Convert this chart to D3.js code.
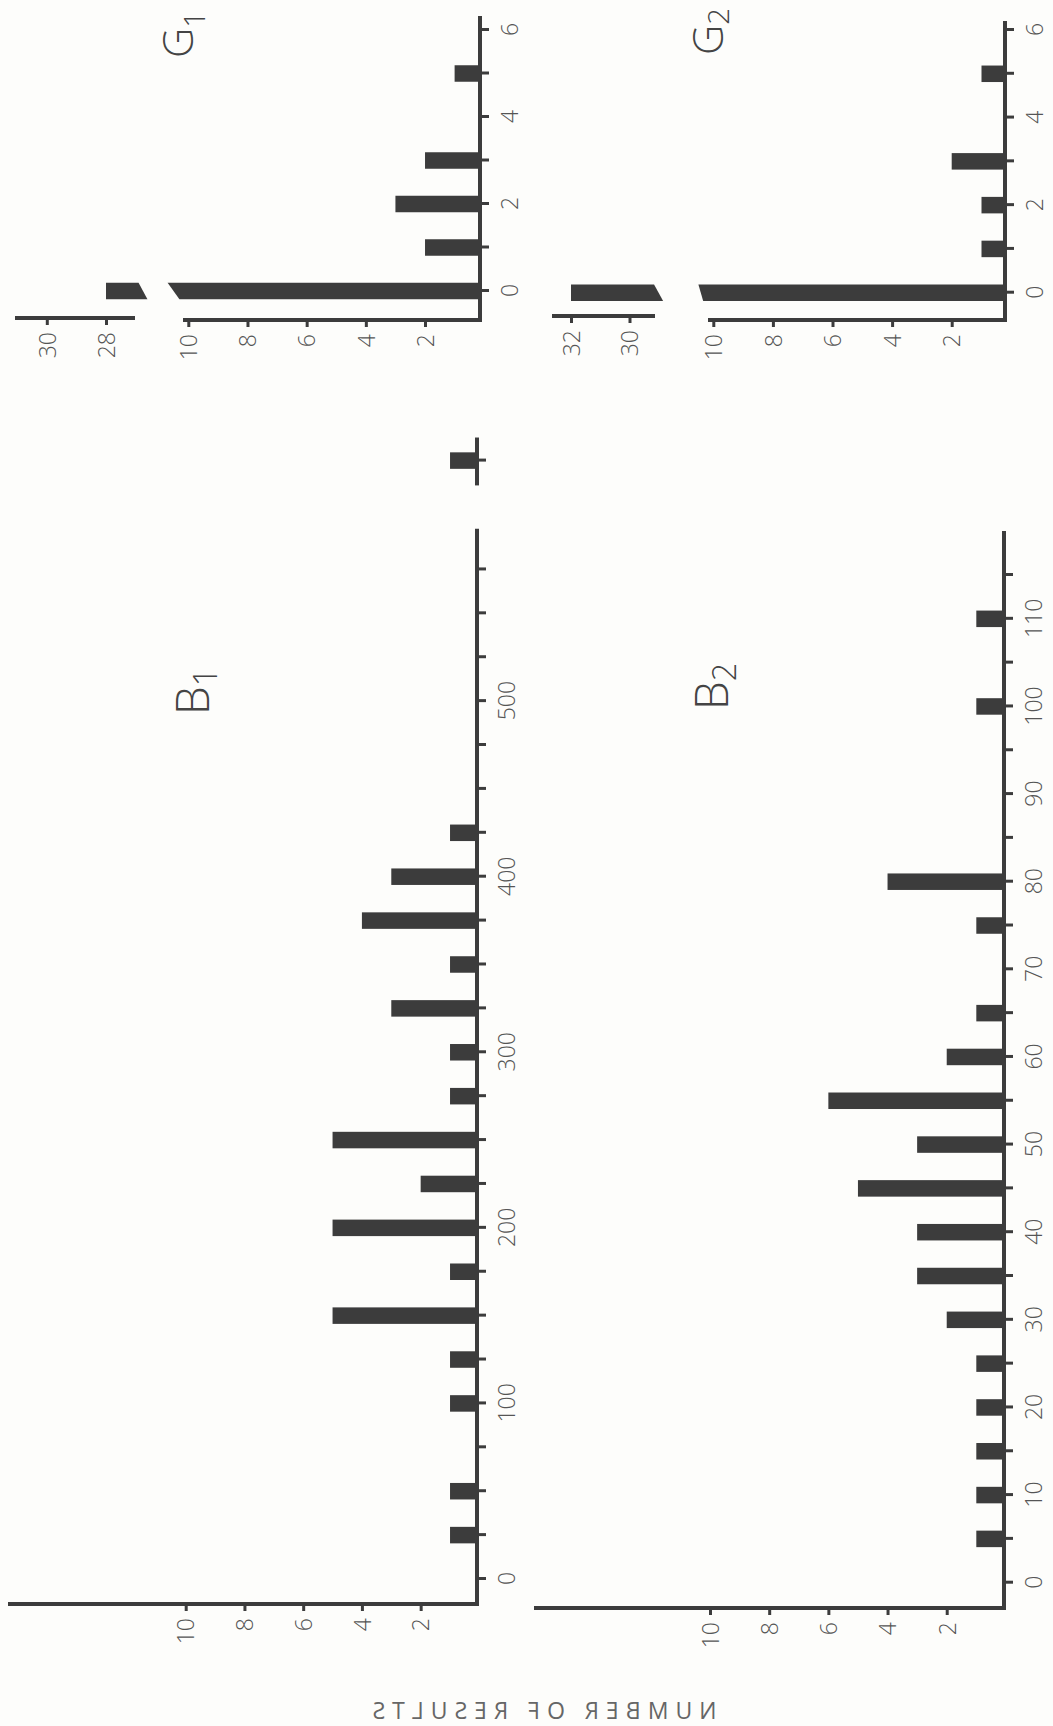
<!DOCTYPE html>
<html><head><meta charset="utf-8">
<script src="https://cdn.jsdelivr.net/npm/d3@7"></script>
<style>body{margin:0;background:#fdfdfb} svg{display:block}</style>
</head><body><svg id="c" width="1053" height="1726"></svg>
<script>
// ---------------- data ----------------
const b1Cats = [25,50,100,125,150,175,200,225,250,275,300,325,350,375,400,425];
const b1Vals = [1,1,1,1,5,1,5,2,5,1,1,3,1,4,3,1];
const b1FarCats = [637];      // bar beyond the axis break
const b1FarVals = [1];
const b1CatTicks = d3.range(0, 600, 25);
const b1CatLabels = [0,100,200,300,400,500];

const b2Cats = [5,10,15,20,25,30,35,40,45,50,55,60,65,75,80,100,110];
const b2Vals = [1,1,1,1,1,2,3,3,5,3,6,2,1,1,4,1,1];
const b2CatTicks = d3.range(0, 120, 5);
const b2CatLabels = [0,10,20,30,40,50,60,70,80,90,100,110];

const g1Cats = [0,1,2,3,5];
const g1Vals = [28,2,3,2,1];
const g2Cats = [0,1,2,3,5];
const g2Vals = [32,1,1,2,1];
const gCatTicks = [0,1,2,3,4,5,6];
const gCatLabels = [0,2,4,6];

const valueTicks = [2,4,6,8,10];
const g1UpperTicks = [28,30];
const g2UpperTicks = [30,32];
const g1Cut = [10.3,10.7], g1UpperCut = [26.6,26.9];
const g2Cut = [10.34,10.5], g2UpperCut = [28.85,29.16];

const titles = [["B","1"],["B","2"],["G","1"],["G","2"]];
const yLabel = "NUMBER OF RESULTS";

// ---------------- drawing ----------------
const INK = '#3c3c3c', TXT = '#555', FONT = "'Open Sans', 'Liberation Sans', sans-serif";
const svg = d3.select('#c');
svg.append('rect').attr('width',1053).attr('height',1726).attr('fill','#fdfdfb');
// the chart is printed rotated 90deg counter-clockwise
const L = svg.append('g').attr('transform','translate(0,1726) rotate(-90)');
const BW = 16.5;
const fmt = d3.format('d');

function line(g, x1, y1, x2, y2){
  g.append('line').attr('x1',x1).attr('y1',y1).attr('x2',x2).attr('y2',y2)
   .attr('stroke',INK).attr('stroke-width',4).attr('stroke-linecap','square');
}
function styleAxis(ag){
  ag.select('.domain').remove();
  ag.attr('font-family',FONT).attr('font-size',23).attr('font-weight',300);
  ag.selectAll('.tick line').attr('stroke',INK).attr('stroke-width',3);
  ag.selectAll('.tick text').attr('fill',TXT);
}
function catAxis(x, yPos, ticks, labels){
  const a = d3.axisBottom(x).tickValues(ticks).tickSize(9)
    .tickFormat(d => labels.includes(d) ? fmt(d) : '');
  const ag = L.append('g').attr('transform',`translate(0,${yPos})`).call(a);
  styleAxis(ag);
  ag.selectAll('.tick text').attr('y',30).attr('dy','0.36em');
}
function valAxis(y, xPos, ticks){
  const a = d3.axisLeft(y).tickValues(ticks).tickSize(7).tickFormat(fmt);
  const ag = L.append('g').attr('transform',`translate(${xPos},0)`).call(a);
  styleAxis(ag);
  ag.selectAll('.tick text').attr('x',-14).attr('dy','0.36em');
}
function bars(cats, vals, x, y, base){
  L.append('g').selectAll('rect').data(cats.map((c,i)=>({c, v:vals[i]}))).join('rect')
   .attr('x', d => x(d.c) - BW/2).attr('width', BW)
   .attr('y', d => y(d.v)).attr('height', d => base - y(d.v))
   .attr('fill', INK);
}
function brokenBar(c, v, x, y, yU, base, cut, upCut){
  const x0 = x(c) - BW/2, x1 = x(c) + BW/2;
  L.append('path').attr('fill',INK)
   .attr('d',`M${x0},${base}L${x1},${base}L${x1},${y(cut[1])}L${x0},${y(cut[0])}Z`);
  L.append('path').attr('fill',INK)
   .attr('d',`M${x0},${yU(v)}L${x1},${yU(v)}L${x1},${yU(upCut[1])}L${x0},${yU(upCut[0])}Z`);
}
function title(t, X, Y, size, sub){
  const tx = L.append('text').attr('x',X).attr('y',Y).attr('font-family',FONT)
    .attr('font-weight',300).attr('font-size',size).attr('fill','#444');
  tx.append('tspan').text(t[0]);
  tx.append('tspan').attr('font-size',size*0.7).attr('dy',sub).text(t[1]);
}

// ---- B1 ----
{
  const x = d3.scaleLinear().domain([0,400]).range([147, 849.3]);
  const y = d3.scaleLinear().domain([0,10]).range([479.4, 185.7]);
  const axY = 477, axX = 122;
  line(L, axX, axY, x(597), axY);
  line(L, axX, 10, axX, axY);
  line(L, x(624), axY, x(649), axY);
  catAxis(x, axY, b1CatTicks, b1CatLabels);
  catAxis(x, axY, b1FarCats, []);
  valAxis(y, axX, valueTicks);
  bars(b1Cats, b1Vals, x, y, axY);
  bars(b1FarCats, b1FarVals, x, y, axY);
  title(titles[0], 1011, 209, 46, 8);
}
// ---- B2 ----
{
  const x = d3.scaleLinear().domain([0,80]).range([143.3, 844.3]);
  const y = d3.scaleLinear().domain([0,10]).range([1005.9, 710]);
  const axY = 1004, axX = 118;
  line(L, axX, axY, x(119.8), axY);
  line(L, axX, 536, axX, axY);
  catAxis(x, axY, b2CatTicks, b2CatLabels);
  valAxis(y, axX, valueTicks);
  bars(b2Cats, b2Vals, x, y, axY);
  title(titles[1], 1016, 728, 46, 8);
}
// ---- G1 ----
{
  const x = d3.scaleLinear().domain([0,6]).range([1435, 1696]);
  const y = d3.scaleLinear().domain([0,10]).range([484.2, 188.3]);
  const yU = d3.scaleLinear().domain([28,30]).range([106, 46.8]);
  const axY = 480, axX = 1406;
  line(L, axX, axY, 1708, axY);
  line(L, axX, 185, axX, axY);
  line(L, 1408, 17, 1408, 133);
  catAxis(x, axY, gCatTicks, gCatLabels);
  valAxis(y, axX, valueTicks);
  valAxis(yU, 1408, g1UpperTicks);
  bars(g1Cats.slice(1), g1Vals.slice(1), x, y, axY);
  brokenBar(g1Cats[0], g1Vals[0], x, y, yU, axY, g1Cut, g1UpperCut);
  title(titles[2], 1668, 193, 42, 12);
}
// ---- G2 ----
{
  const x = d3.scaleLinear().domain([0,6]).range([1433.3, 1696]);
  const y = d3.scaleLinear().domain([0,10]).range([1011.3, 713.3]);
  const yU = d3.scaleLinear().domain([30,32]).range([629.5, 571]);
  const axY = 1005, axX = 1406;
  line(L, axX, axY, 1703, axY);
  line(L, axX, 710, axX, axY);
  line(L, 1410, 554, 1410, 653);
  catAxis(x, axY, gCatTicks, gCatLabels);
  valAxis(y, axX, valueTicks);
  valAxis(yU, 1410, g2UpperTicks);
  bars(g2Cats.slice(1), g2Vals.slice(1), x, y, axY);
  brokenBar(g2Cats[0], g2Vals[0], x, y, yU, axY, g2Cut, g2UpperCut);
  title(titles[3], 1671, 723, 42, 6);
}
// ---- mirrored axis title ----
svg.append('text').attr('transform','translate(541,1719) scale(-1,1)')
  .attr('text-anchor','middle').attr('font-family',FONT).attr('font-weight',400)
  .attr('font-size',23).attr('letter-spacing',7).attr('fill','#666').text(yLabel);
</script></body></html>
